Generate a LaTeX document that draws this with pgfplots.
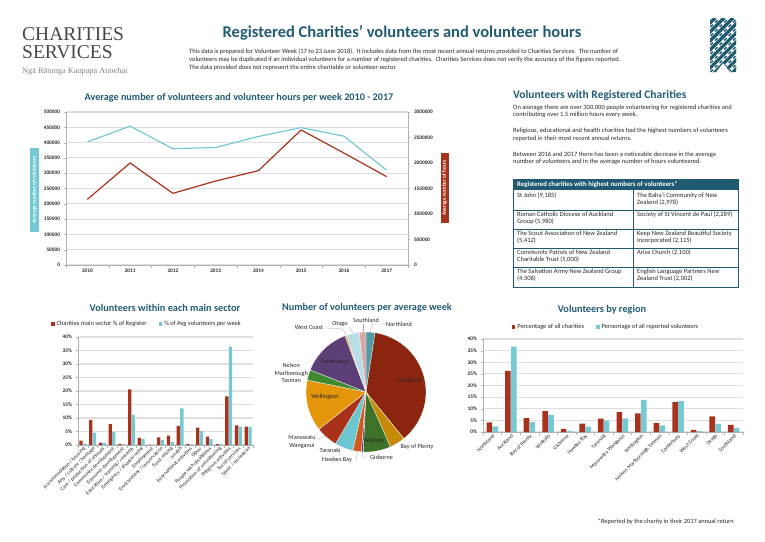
\documentclass[border=0pt]{standalone}
\usepackage{pgfplots}
\pgfplotsset{compat=1.18}
\usepackage{fontspec}
\setmainfont{Carlito}
\newfontfamily\logofont{Liberation Serif}

\definecolor{hdr}{HTML}{1F5A70}
\definecolor{ttl}{HTML}{215C73}
\definecolor{cred}{HTML}{A8321C}
\definecolor{cteal}{HTML}{76C8D2}
\definecolor{txt}{HTML}{262626}
% pie colours
\definecolor{pNorth}{HTML}{4E9DA6}
\definecolor{pAuck}{HTML}{8B2510}
\definecolor{pBay}{HTML}{C78A08}
\definecolor{pWaik}{HTML}{3E7228}
\definecolor{pGis}{HTML}{5A3F7E}
\definecolor{pHawk}{HTML}{D05A1E}
\definecolor{pTara}{HTML}{6CC6D0}
\definecolor{pMana}{HTML}{A8311A}
\definecolor{pWell}{HTML}{E4960B}
\definecolor{pNel}{HTML}{3F8A2F}
\definecolor{pCant}{HTML}{5D3F78}
\definecolor{pWest}{HTML}{E77B22}
\definecolor{pOtag}{HTML}{B9DDE5}
\definecolor{pSouth}{HTML}{D9A6A6}

\newcommand\fs[2]{\fontsize{#1}{#2}\selectfont}

\pgfplotsset{
  chartbase/.style={
    scale only axis, anchor=south west,
    axis line style={gray!60}, tick style={gray!60},
    tick align=outside, major tick length=2.5pt,
    axis x line*=bottom, axis y line*=left,
    ymajorgrids, grid style={gray!25, line width=1.1pt},
    ticklabel style={font=\fs{5.3}{6}\bfseries, text=txt},
    /pgf/number format/assume math mode=true,
  },
  barlegend/.style={
    legend style={draw=none, fill=none, legend columns=2, font=\fs{6.4}{7}, text=txt,
      /tikz/every even column/.append style={column sep=10pt}},
  },
  sqleg/.style={legend image code/.code={\fill[##1] (0pt,-1.8pt) rectangle (3.6pt,1.8pt);}},
}

% pie slices, clockwise from 12 o'clock
\def\cum{0}
\newcommand\pieslice[2]{%
  \pgfmathsetmacro\sa{\cum}%
  \pgfmathsetmacro\ea{\cum+#1*360/99.9}%
  \xdef\cum{\ea}%
  \edef\doslice{\noexpand\addplot[fill=#2, draw=white, line width=0.3pt, domain=\sa:\ea, samples=30]
    ({cos(90-x)},{sin(90-x)}) -- (0,0) -- cycle;}%
  \doslice}

\begin{document}
\begin{tikzpicture}[x=1pt,y=1pt]
\path[use as bounding box] (0,0) rectangle (765,-541);

% ---- header
\node[anchor=base west, inner sep=0, text=txt!85] at (22,-40) {\logofont\fs{19.5}{20}CHARITIES};
\node[anchor=base west, inner sep=0, text=txt!85] at (22,-58) {\logofont\fs{19.5}{20}SERVICES};
\node[anchor=base west, inner sep=0, text=gray] at (22,-73) {\logofont\fs{8.3}{9}Ngā Rātonga Kaupapa Atawhai};

\node[text=ttl, font=\fs{16.5}{18}\bfseries] at (402,-33) {Registered Charities’ volunteers and volunteer hours};
\node[anchor=north west, inner sep=0, align=left, text=txt, font=\fs{6.5}{8.1}] at (189,-48.5)
 {This data is prepared for Volunteer Week (17 to 23 June 2018).\ \ It includes data from the most recent annual returns provided to Charities Services.\ \ The number of\\
  volunteers may be duplicated if an individual volunteers for a number of registered charities.\ \ Charities Services does not verify the accuracy of the figures reported.\\
  The data provided does not represent the entire charitable or volunteer sector.};

% knot logo
\begin{scope}
\clip (710,-18) -- (736,-18) -- (736,-72) -- (730,-72) -- (723,-63) -- (716,-72) -- (710,-72) -- cycle;
\foreach \k in {-60,-51,...,60} {\draw[hdr, line width=3.2pt] (710+\k,-18) -- ++(60,-60);}
\foreach \k in {-60,-51,...,60} {\draw[white, line width=4.6pt] (736-\k,-18) -- ++(-60,-60);
  \draw[hdr, line width=3.2pt] (736-\k,-18) -- ++(-60,-60);}
\end{scope}

% ---- line chart
\node[text=ttl, font=\fs{10.2}{11}\bfseries] at (239,-98) {Average number of volunteers and volunteer hours per week 2010 - 2017};
\begin{axis}[chartbase, at={(66pt,-265pt)}, width=342pt, height=153pt,
  xmin=-0.5, xmax=7.5, ymin=0, ymax=500000,
  xtick={-0.5,0.5,...,7.5}, xticklabels={},
  extra x ticks={0,...,7}, extra x tick labels={2010,2011,2012,2013,2014,2015,2016,2017},
  extra x tick style={major tick length=0pt},
  ytick={0,50000,100000,150000,200000,250000,300000,350000,400000,450000,500000},
  scaled y ticks=false,
  yticklabel style={/pgf/number format/fixed, /pgf/number format/1000 sep={}},
]
\addplot[cteal, line width=1.2pt] coordinates {(0,402000) (1,454000) (2,380000) (3,384000) (4,420000) (5,449000) (6,421000) (7,310000)};
\end{axis}
\begin{axis}[chartbase, at={(66pt,-265pt)}, width=342pt, height=153pt,
  xmin=-0.5, xmax=7.5, ymin=0, ymax=3000000,
  axis y line*=right, axis x line=none, ymajorgrids=false,
  ytick={0,500000,1000000,1500000,2000000,2500000,3000000}, scaled y ticks=false,
  yticklabel style={/pgf/number format/fixed, /pgf/number format/1000 sep={}},
]
\addplot[cred, line width=1.2pt] coordinates {(0,1288000) (1,2000000) (2,1405000) (3,1647000) (4,1850000) (5,2647000) (6,2196000) (7,1732000)};
\end{axis}
\node[fill=cteal, text=white, rotate=90, font=\fs{5.3}{6}\bfseries, minimum width=84pt, minimum height=9pt, inner sep=0pt] at (34.5,-190) {Average number of volunteers};
\node[fill=cred, text=white, rotate=90, font=\fs{5.3}{6}\bfseries, minimum width=70pt, minimum height=8pt, inner sep=0pt] at (444.5,-188) {Average number of hours};

% ---- right text block
\node[anchor=base west, inner sep=0, text=ttl, font=\fs{11.5}{12}\bfseries] at (513,-98) {Volunteers with Registered Charities};
\node[anchor=north west, inner sep=0, align=left, text=txt, font=\fs{6.5}{7.7}] at (513,-104.5)
 {On average there are over 300,000 people volunteering for registered charities and\\
  contributing over 1.5 million hours every week.\\[8pt]
  Religious, educational and health charities had the highest numbers of volunteers\\
  reported in their most recent annual returns.\\[8pt]
  Between 2016 and 2017 there has been a noticeable decrease in the average\\
  number of volunteers and in the average number of hours volunteered.};

% table
\fill[hdr] (513,-179) rectangle (738,-190);
\node[anchor=west, inner sep=0, text=white, font=\fs{6.8}{7}\bfseries] at (517,-184.5) {Registered charities with highest numbers of volunteers*};
\foreach \yy in {210,229,248,267} {\draw[hdr, line width=0.7pt] (513,-\yy) -- (738,-\yy);}
\draw[hdr, line width=0.7pt] (633,-190) -- (633,-287);
\draw[hdr, line width=0.9pt] (513,-179) rectangle (738,-287);
\tikzset{cell/.style={anchor=north west, inner sep=0, align=left, text=txt, font=\fs{6.5}{7.6}}}
\node[cell] at (517,-192.5) {St John (9,185)};
\node[cell] at (637,-192.5) {The Baha’i Community of New\\Zealand (2,978)};
\node[cell] at (517,-211.5) {Roman Catholic Diocese of Auckland\\Group (5,980)};
\node[cell] at (637,-211.5) {Society of St Vincent de Paul (2,289)};
\node[cell] at (517,-230.5) {The Scout Association of New Zealand\\(5,412)};
\node[cell] at (637,-230.5) {Keep New Zealand Beautiful Society\\Incorporated (2,115)};
\node[cell] at (517,-249.5) {Community Patrols of New Zealand\\Charitable Trust (5,000)};
\node[cell] at (637,-249.5) {Arise Church (2,100)};
\node[cell] at (517,-268.5) {The Salvation Army New Zealand Group\\(4.508)};
\node[cell] at (637,-268.5) {English Language Partners New\\Zealand Trust (2,002)};

% ---- sector chart
\node[text=ttl, font=\fs{10.3}{11}\bfseries] at (165,-308) {Volunteers within each main sector};
\begin{axis}[chartbase, barlegend, at={(78pt,-445pt)}, width=175pt, height=108pt,
  xmin=-0.5, xmax=17.5, ymin=0, ymax=40, ytick={0,5,...,40},
  yticklabel={\pgfmathprintnumber{\tick}\%},
  xtick={-0.5,0.5,...,17.5}, xticklabels={},
  extra x ticks={0,...,17},
  extra x tick labels={Accommodation / housing, Arts / culture / heritage, Care / protection of animals,
    Community development, Economic development, Education / training / research,
    Emergency / disaster relief, Employment, Environment / conservation, Fund-raising, Health,
    International activities, Other, People with disabilities, Promotion of volunteering,
    Religious activities, Social services, Sport / recreation},
  extra x tick style={major tick length=0pt,
    tick label style={rotate=45, anchor=north east, font=\fs{5.3}{6}, inner sep=0.8pt}},
  ybar=0.3pt, bar width=3.3pt,
  legend style={at={(0.394,1.12)}, anchor=center},
]
\addplot[fill=cred, draw=none, sqleg] coordinates {(0,1.6) (1,9.3) (2,0.9) (3,7.7) (4,0.4) (5,20.6) (6,2.6) (7,0.05) (8,2.8) (9,3.5) (10,7.1) (11,0.3) (12,6.4) (13,3.1) (14,0.3) (15,18.0) (16,7.3) (17,6.8)};
\addplot[fill=cteal, draw=none, sqleg] coordinates {(0,0.5) (1,4.6) (2,0.8) (3,4.9) (4,0.1) (5,11.2) (6,2.2) (7,0.05) (8,1.8) (9,1.2) (10,13.6) (11,0.2) (12,5.1) (13,2.2) (14,0.2) (15,36.4) (16,6.8) (17,6.8)};
\legend{Charities main sector \% of Register, \% of Avg volunteers per week}
\end{axis}

% ---- pie chart
\node[text=ttl, font=\fs{10.2}{11}\bfseries] at (367,-308) {Number of volunteers per average week};
\begin{axis}[at={(306pt,-452pt)}, anchor=south west, scale only axis, width=120pt, height=120pt,
  xmin=-1, xmax=1, ymin=-1, ymax=1, hide axis, clip=false]
\pieslice{2.4}{pNorth}
\pieslice{36.7}{pAuck}
\pieslice{4.2}{pBay}
\pieslice{7.4}{pWaik}
\pieslice{0.5}{pGis}
\pieslice{2.3}{pHawk}
\pieslice{4.9}{pTara}
\pieslice{5.9}{pMana}
\pieslice{13.8}{pWell}
\pieslice{2.8}{pNel}
\pieslice{13.3}{pCant}
\pieslice{0.4}{pWest}
\pieslice{3.5}{pOtag}
\pieslice{1.8}{pSouth}
\end{axis}
\tikzset{plab/.style={inner sep=0, text=txt, font=\fs{6.2}{7.4}, align=center}}
\draw[gray!70, line width=0.3pt] (370,-332) -- (373,-324) -- (385,-324);
\draw[gray!70, line width=0.3pt] (363,-324) -- (363,-332);
\draw[gray!70, line width=0.3pt] (349,-327) -- (353,-333);
\draw[gray!70, line width=0.3pt] (326,-328) -- (343,-329) -- (346,-335);
\draw[gray!70, line width=0.3pt] (318,-439) -- (327,-436);
\draw[gray!70, line width=0.3pt] (355,-460) -- (356.5,-460) -- (357,-451);
\draw[gray!70, line width=0.3pt] (369,-457) -- (363,-457) -- (362.5,-452);
\node[plab, anchor=west] at (386,-324) {Northland};
\node[plab] at (366,-320) {Southland};
\node[plab] at (340,-324) {Otago};
\node[plab] at (309,-328) {West Coast};
\node[plab] at (335,-362) {Canterbury};
\node[plab, anchor=east] at (308,-373) {Nelson\\Marlborough\\Tasman};
\node[plab] at (325,-397) {Wellington};
\node[plab] at (302,-442) {Manawatu\\Wanganui};
\node[plab] at (330,-450) {Taranaki};
\node[plab] at (337,-460) {Hawkes Bay};
\node[plab, anchor=west] at (370,-457) {Gisborne};
\node[plab] at (374,-440) {Waikato};
\node[plab] at (417,-447) {Bay of Plenty};
\node[plab] at (410,-380) {Auckland};

% ---- region chart
\node[text=ttl, font=\fs{10.3}{11}\bfseries] at (602,-310) {Volunteers by region};
\begin{axis}[chartbase, barlegend, at={(483pt,-432pt)}, width=260pt, height=93pt,
  xmin=-0.5, xmax=13.5, ymin=0, ymax=40, ytick={0,5,...,40},
  yticklabel={\pgfmathprintnumber{\tick}\%},
  xtick={-0.5,0.5,...,13.5}, xticklabels={},
  extra x ticks={0,...,13},
  extra x tick labels={Northland, Auckland, Bay of Plenty, Waikato, Gisborne, Hawkes Bay, Taranaki,
    Manawatu Wanganui, Wellington, Nelson Marlborough Tasman, Canterbury, West Coast, Otago, Southland},
  extra x tick style={major tick length=0pt,
    tick label style={rotate=45, anchor=north east, font=\fs{5.4}{6}, inner sep=1pt}},
  ybar=0.3pt, bar width=5.6pt,
  legend style={at={(0.473,1.13)}, anchor=center},
]
\addplot[fill=cred, draw=none, sqleg] coordinates {(0,4.1) (1,26.3) (2,6.0) (3,9.0) (4,1.3) (5,3.6) (6,5.8) (7,8.6) (8,8.0) (9,3.8) (10,12.8) (11,0.9) (12,6.7) (13,3.1)};
\addplot[fill=cteal, draw=none, sqleg] coordinates {(0,2.4) (1,36.7) (2,4.2) (3,7.4) (4,0.5) (5,2.3) (6,4.9) (7,5.9) (8,13.8) (9,2.8) (10,13.3) (11,0.4) (12,3.5) (13,1.8)};
\legend{Percentage of all charities, Percentage of all reported volunteers}
\end{axis}

\node[anchor=base east, inner sep=0, text=txt, font=\fs{6.4}{7}] at (734,-523) {*Reported by the charity in their 2017 annual return};
\end{tikzpicture}
\end{document}
